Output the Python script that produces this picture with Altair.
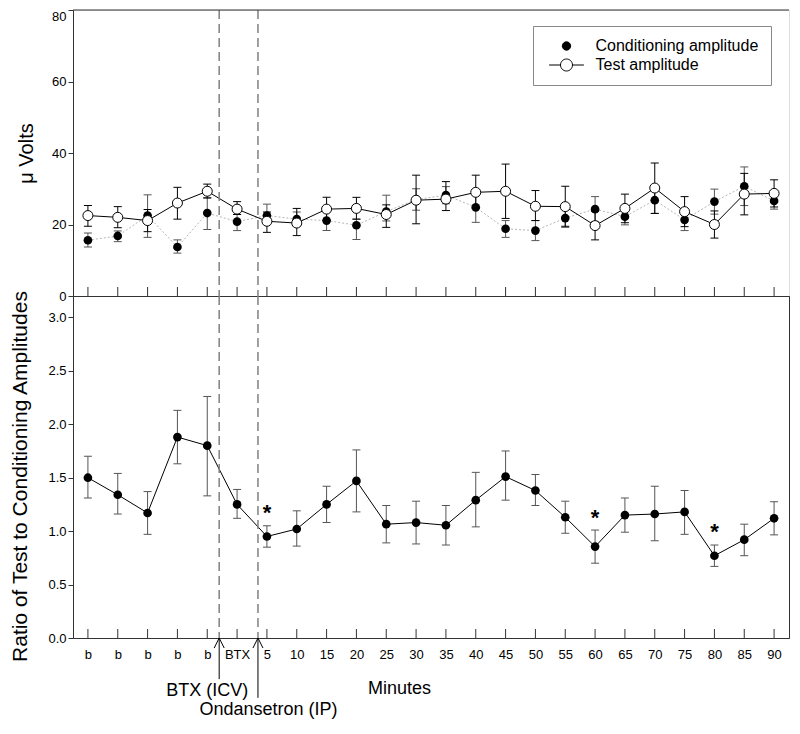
import json
import altair as alt
import pandas as pd

FONT = "Liberation Sans"

tick_labels = ["b", "b", "b", "b", "b", "BTX", "5", "10", "15", "20", "25", "30",
               "35", "40", "45", "50", "55", "60", "65", "70", "75", "80", "85", "90"]
positions = list(range(len(tick_labels)))

series_names = ["Conditioning amplitude", "Test amplitude"]

cond_mean = [15.6, 16.8, 22.5, 13.7, 23.2, 20.8, 22.5, 21.5, 21.1, 19.8, 23.6, 27.0,
             28.2, 24.8, 18.8, 18.3, 21.8, 24.3, 22.2, 26.8, 21.3, 26.4, 30.7, 26.6]
cond_hi = [17.6, 18.2, 28.3, 15.7, 27.5, 22.8, 25.7, 23.5, 23.5, 21.5, 28.2, 30.0,
           30.6, 29.0, 21.1, 21.1, 24.4, 27.8, 24.5, 30.5, 24.3, 29.9, 36.1, 28.9]
cond_lo = [13.7, 15.2, 16.4, 12.0, 18.6, 18.3, 20.5, 19.5, 18.3, 15.8, 21.0, 24.0,
           25.8, 20.6, 16.4, 15.5, 19.2, 20.8, 19.9, 23.1, 18.3, 22.9, 25.3, 24.3]

test_mean = [22.5, 22.0, 21.1, 26.0, 29.3, 24.3, 20.9, 20.4, 24.3, 24.5, 22.8, 26.8,
             27.1, 29.0, 29.3, 25.1, 25.0, 19.7, 24.5, 30.2, 23.6, 20.0, 28.5, 28.7]
test_hi = [25.3, 25.0, 24.2, 30.4, 31.3, 26.4, 23.5, 24.5, 27.6, 27.6, 25.5, 33.8,
           32.0, 33.8, 36.9, 29.5, 30.7, 23.7, 28.5, 37.2, 27.8, 23.8, 34.3, 32.5]
test_lo = [19.5, 19.1, 18.0, 21.5, 27.4, 22.8, 17.8, 16.9, 21.1, 21.5, 19.2, 20.2,
           23.9, 24.5, 21.7, 21.1, 19.5, 15.7, 20.5, 23.1, 19.4, 16.2, 22.7, 24.9]

ratio_mean = [1.50, 1.34, 1.17, 1.88, 1.80, 1.25, 0.95, 1.02, 1.25, 1.47, 1.065, 1.08,
              1.055, 1.29, 1.51, 1.38, 1.13, 0.855, 1.15, 1.16, 1.18, 0.77, 0.92, 1.12]
ratio_hi = [1.70, 1.54, 1.37, 2.13, 2.26, 1.39, 1.05, 1.19, 1.42, 1.76, 1.24, 1.28,
            1.24, 1.55, 1.75, 1.53, 1.28, 1.01, 1.31, 1.42, 1.38, 0.87, 1.065, 1.275]
ratio_lo = [1.31, 1.16, 0.97, 1.63, 1.33, 1.12, 0.85, 0.86, 1.08, 1.18, 0.89, 0.88,
            0.87, 1.04, 1.29, 1.24, 0.98, 0.70, 0.99, 0.91, 0.97, 0.67, 0.77, 0.965]

star_pos = [6, 17, 21]
star_y = [1.21, 1.16, 1.03]

event_pos = [4.4, 5.7]
event_names = ["BTX (ICV)", "Ondansetron (IP)"]
event_arrow_y = [-0.385, -0.56]
event_label_pos = [4.0, 6.05]
event_label_y = [-0.496, -0.674]

amp = pd.DataFrame({"pos": positions, "cond": cond_mean, "cond_hi": cond_hi, "cond_lo": cond_lo,
                    "test": test_mean, "test_hi": test_hi, "test_lo": test_lo})
ratio = pd.DataFrame({"pos": positions, "ratio": ratio_mean, "ratio_hi": ratio_hi, "ratio_lo": ratio_lo})
cond_caps = pd.DataFrame({"pos": positions * 2, "val": cond_hi + cond_lo})
test_caps = pd.DataFrame({"pos": positions * 2, "val": test_hi + test_lo})
ratio_caps = pd.DataFrame({"pos": positions * 2, "val": ratio_hi + ratio_lo})
stars = pd.DataFrame({"pos": star_pos, "val": star_y})
events = pd.DataFrame({"pos": event_pos, "name": event_names, "arrow_y": event_arrow_y,
                       "label_pos": event_label_pos, "label_y": event_label_y})
ticks_df = pd.DataFrame({"pos": positions})
legend_df = pd.DataFrame({"series": series_names, "pos": [0, 0], "val": [0, 0]})

PLOT_W = 716
X_SCALE = alt.Scale(domain=[-0.5, 23.5], nice=False, zero=False)
AX_COL = "#333333"

top_x_axis = alt.Axis(values=positions, labels=False, ticks=False, domain=True, title=None,
                      grid=False, domainColor=AX_COL)
label_expr = json.dumps(tick_labels) + "[datum.value]"
bot_x_axis = alt.Axis(values=positions, labelExpr=label_expr, ticks=False, labelPadding=10,
                      labelFontSize=13, labelFont=FONT, labelColor="black", title="Minutes",
                      titleFontSize=18, titleFontWeight="normal", titleFont=FONT, titleX=326,
                      titleY=50, titleBaseline="middle", grid=False, domainColor=AX_COL,
                      labelFlush=False)

top_y_axis = alt.Axis(values=[0, 20, 40, 60, 80], title="μ Volts", titleFontSize=20,
                      titleFontWeight="normal", titleFont=FONT, titleX=-57, titleBaseline="top",
                      titleAlign="center", labelFontSize=13, labelFont=FONT, labelColor="black",
                      tickSize=5, tickColor=AX_COL, domainColor=AX_COL, grid=False,
                      labelBaseline=alt.ExprRef("datum.value == 80 ? 'top' : 'middle'"))
bot_y_axis = alt.Axis(values=[0, 0.5, 1.0, 1.5, 2.0, 2.5, 3.0], format=".1f",
                      title="Ratio of Test to Conditioning Amplitudes", titleFontSize=21,
                      titleFontWeight="normal", titleFont=FONT, titleX=-64, titleY=180,
                      titleBaseline="top", titleAlign="center", labelFontSize=13, labelFont=FONT,
                      labelColor="black", tickSize=5, tickColor=AX_COL, domainColor=AX_COL,
                      grid=False)

TOP_SCALE = alt.Scale(domain=[0, 80], nice=False, zero=False)
BOT_SCALE = alt.Scale(domain=[0, 3.2], nice=False, zero=False)


def xt(field="pos"):
    return alt.X(field, type="quantitative", scale=X_SCALE, axis=top_x_axis)


def xb(field="pos"):
    return alt.X(field, type="quantitative", scale=X_SCALE, axis=bot_x_axis)


def yt(field):
    return alt.Y(field, type="quantitative", scale=TOP_SCALE, axis=top_y_axis)


def yb(field):
    return alt.Y(field, type="quantitative", scale=BOT_SCALE, axis=bot_y_axis)


# ---------------- top panel ----------------
base_top = alt.Chart(amp)
cond_line = base_top.mark_line(color="#b5b5b5", strokeDash=[2, 2], strokeWidth=1).encode(
    x=xt(), y=yt("cond"))
cond_err = base_top.mark_rule(color="#555555", strokeWidth=1).encode(
    x=xt(), y=yt("cond_lo"), y2="cond_hi")
cond_cap = alt.Chart(cond_caps).mark_tick(orient="horizontal", size=8, thickness=1,
                                          color="#555555", opacity=1).encode(x=xt(), y=yt("val"))
cond_pts = base_top.mark_point(filled=True, color="black", size=75, opacity=1).encode(
    x=xt(), y=yt("cond"))
test_line = base_top.mark_line(color="black", strokeWidth=1).encode(x=xt(), y=yt("test"))
test_err = base_top.mark_rule(color="black", strokeWidth=1).encode(
    x=xt(), y=yt("test_lo"), y2="test_hi")
test_cap = alt.Chart(test_caps).mark_tick(orient="horizontal", size=8, thickness=1,
                                          color="black", opacity=1).encode(x=xt(), y=yt("val"))
test_pts = base_top.mark_point(filled=True, fill="white", stroke="black", strokeWidth=1,
                               size=100, opacity=1).encode(x=xt(), y=yt("test"))
top_ticks = alt.Chart(ticks_df).mark_tick(orient="vertical", size=9, thickness=1, color=AX_COL,
                                          opacity=1, yOffset=-4.5).encode(x=xt(), y=alt.datum(0))
top_dash = alt.Chart(events).mark_rule(color="#808080", strokeDash=[9, 5], strokeWidth=1.5).encode(
    x=xt())
top_border = alt.Chart(legend_df.head(1)).mark_rule(color=AX_COL, strokeWidth=1).encode(
    y=alt.datum(80))

test_path = ("M-2.9,0L-1,0M1,0L2.9,0M1,0A1,1 0 1,1 -1,0A1,1 0 1,1 1,0Z")
leg = alt.Legend(orient="none", legendX=460, legendY=16, title=None, labelFontSize=16,
                 labelFont=FONT, labelColor="black", strokeColor="#888888", fillColor="white",
                 padding=12, rowPadding=3, symbolOffset=13.5, labelOffset=21, labelLimit=400,
                 symbolStrokeColor="black", symbolStrokeWidth=1)
legend_layer = alt.Chart(legend_df).transform_filter("datum.series == 'none'").mark_point(
    filled=True, stroke="black", strokeWidth=1, opacity=1).encode(
    x=xt(), y=yt("val"),
    shape=alt.Shape("series:O", scale=alt.Scale(domain=series_names, range=["circle", test_path]),
                    legend=leg),
    fill=alt.Fill("series:O", scale=alt.Scale(domain=series_names, range=["black", "white"]),
                  legend=leg),
    stroke=alt.Stroke("series:O", scale=alt.Scale(domain=series_names, range=["black", "black"]),
                      legend=leg),
    size=alt.Size("series:O", scale=alt.Scale(domain=series_names, range=[70, 144]), legend=leg),
)

top = alt.layer(cond_line, cond_err, cond_cap, cond_pts, test_line, test_err, test_cap, test_pts,
                top_ticks, top_dash, top_border, legend_layer).properties(width=PLOT_W, height=286)

# ---------------- bottom panel ----------------
base_bot = alt.Chart(ratio)
r_line = base_bot.mark_line(color="black", strokeWidth=1).encode(x=xb(), y=yb("ratio"))
r_err = base_bot.mark_rule(color="#555555", strokeWidth=1).encode(
    x=xb(), y=yb("ratio_lo"), y2="ratio_hi")
r_cap = alt.Chart(ratio_caps).mark_tick(orient="horizontal", size=8, thickness=1,
                                        color="#555555", opacity=1).encode(x=xb(), y=yb("val"))
r_pts = base_bot.mark_point(filled=True, color="black", size=75, opacity=1).encode(
    x=xb(), y=yb("ratio"))
r_stars = alt.Chart(stars).mark_text(text="*", fontSize=22, fontWeight="bold", font=FONT,
                                     color="black", baseline="middle", dy=4).encode(
    x=xb(), y=yb("val"))
bot_ticks = alt.Chart(ticks_df).mark_tick(orient="vertical", size=9, thickness=1, color=AX_COL,
                                          opacity=1, yOffset=-4.5).encode(x=xb(), y=alt.datum(0))
bot_dash = alt.Chart(events).mark_rule(color="#808080", strokeDash=[9, 5], strokeWidth=1.5).encode(
    x=xb())
arrows = alt.Chart(events).mark_rule(color="black", strokeWidth=1).encode(
    x=xb(), y=yb("arrow_y"), y2=alt.datum(0))
arrow_heads = alt.Chart(events).mark_point(shape="M-1,2L0,0L1,2", size=100, filled=False,
                                           stroke="black", strokeWidth=1, opacity=1).encode(
    x=xb(), y=alt.datum(0))
ann = alt.Chart(events).mark_text(fontSize=18, font=FONT, color="black", baseline="middle",
                                  align="center").encode(
    x=xb("label_pos"), y=yb("label_y"), text="name:N")

bottom = alt.layer(r_line, r_err, r_cap, r_pts, r_stars, bot_ticks, bot_dash, arrows,
                   arrow_heads, ann).properties(
    width=PLOT_W, height=342, view=alt.ViewBackground(stroke=AX_COL, strokeWidth=1))

chart = alt.vconcat(top, bottom, spacing=0, bounds="flush").properties(
    padding={"left": 0, "top": 0, "right": 0, "bottom": 0}).configure_view(
    stroke=None).configure(font=FONT)

chart.save("out.html", embed_options={"renderer": "svg", "actions": False})
